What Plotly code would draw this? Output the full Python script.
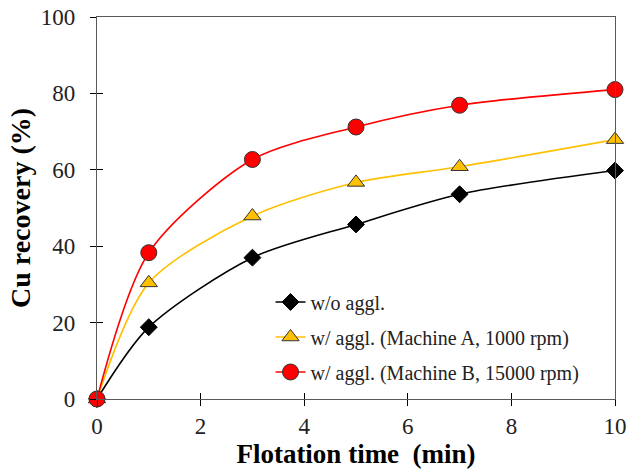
import plotly.graph_objects as go

time_min = [0, 1, 3, 5, 7, 10]
wo_aggl = [0, 18.8, 37.0, 45.7, 53.6, 59.8]
machine_a = [0, 30.4, 47.9, 56.7, 60.8, 67.9]
machine_b = [0, 38.3, 62.7, 71.2, 76.9, 81.0]

names = ["w/o aggl.", "w/ aggl. (Machine A, 1000 rpm)", "w/ aggl. (Machine B, 15000 rpm)"]
x_ticks = [0, 2, 4, 6, 8, 10]
y_ticks = [0, 20, 40, 60, 80, 100]

font = "Liberation Serif"
axis_col = "#595959"

fig = go.Figure()
fig.add_trace(go.Scatter(x=time_min, y=wo_aggl, name=names[0], mode="lines+markers",
                         line=dict(color="black", width=1.6, shape="spline", smoothing=0.8),
                         marker=dict(symbol="diamond", size=13, color="black", line=dict(color="black", width=1)),
                         cliponaxis=False, legendgroup="a"))
fig.add_trace(go.Scatter(x=time_min, y=machine_a, name=names[1], mode="lines+markers",
                         line=dict(color="#FFC000", width=1.6, shape="spline", smoothing=0.8),
                         marker=dict(symbol="triangle-up", size=15, color="#FFC000", line=dict(color="#333333", width=1)),
                         cliponaxis=False, legendgroup="b"))
fig.add_trace(go.Scatter(x=time_min, y=machine_b, name=names[2], mode="lines+markers",
                         line=dict(color="#FF0000", width=1.6, shape="spline", smoothing=0.8),
                         marker=dict(symbol="circle", size=16, color="#FF0000", line=dict(color="#333333", width=1)),
                         cliponaxis=False, legendgroup="c"))

fig.update_layout(
    width=627, height=474,
    margin=dict(l=97, r=12, t=17, b=75, autoexpand=False),
    paper_bgcolor="white", plot_bgcolor="white",
    font=dict(family=font, size=22, color="#222222"),
    showlegend=True,
    legend=dict(x=0.335, y=0.305, xanchor="left", yanchor="top",
                font=dict(family=font, size=20, color="#222222"),
                bgcolor="rgba(0,0,0,0)", tracegroupgap=6, itemwidth=30),
    xaxis=dict(range=[0, 10], tickvals=x_ticks, ticks="outside", ticklen=6, tickcolor="black",
               showline=True, linecolor=axis_col, linewidth=1.2, mirror=True, showgrid=False, zeroline=False,
               automargin=True, ticklabelstandoff=0,
               title=dict(text="<b>Flotation time\u00a0 (min)</b>", font=dict(family=font, size=27, color="black"), standoff=0),
               tickfont=dict(family=font, size=23, color="#222222")),
    yaxis=dict(range=[0, 100], tickvals=y_ticks, ticks="outside", ticklen=6, tickcolor="black",
               showline=True, linecolor=axis_col, linewidth=1.2, mirror=True, showgrid=False, zeroline=False,
               automargin=True, ticklabelstandoff=10,
               title=dict(text="<b>Cu recovery (%)</b>", font=dict(family=font, size=28, color="black"), standoff=1),
               tickfont=dict(family=font, size=23, color="#222222")),
    xaxis2=dict(overlaying="x", matches="x", range=[0, 10], tickvals=x_ticks, ticks="inside", ticklen=6,
                tickcolor="black", showticklabels=False, showgrid=False, zeroline=False, showline=False,
                automargin=False),
    yaxis2=dict(overlaying="y", matches="y", range=[0, 100], tickvals=y_ticks, ticks="inside", ticklen=6,
                tickcolor="black", showticklabels=False, showgrid=False, zeroline=False, showline=False,
                automargin=False),
)
# invisible trace to activate the secondary axes (for crossing tick marks)
fig.add_trace(go.Scatter(x=[time_min[0]], y=[wo_aggl[0]], xaxis="x2", yaxis="y2", mode="markers",
                         marker=dict(opacity=0), showlegend=False, hoverinfo="skip"))

fig.write_html("out.html")
